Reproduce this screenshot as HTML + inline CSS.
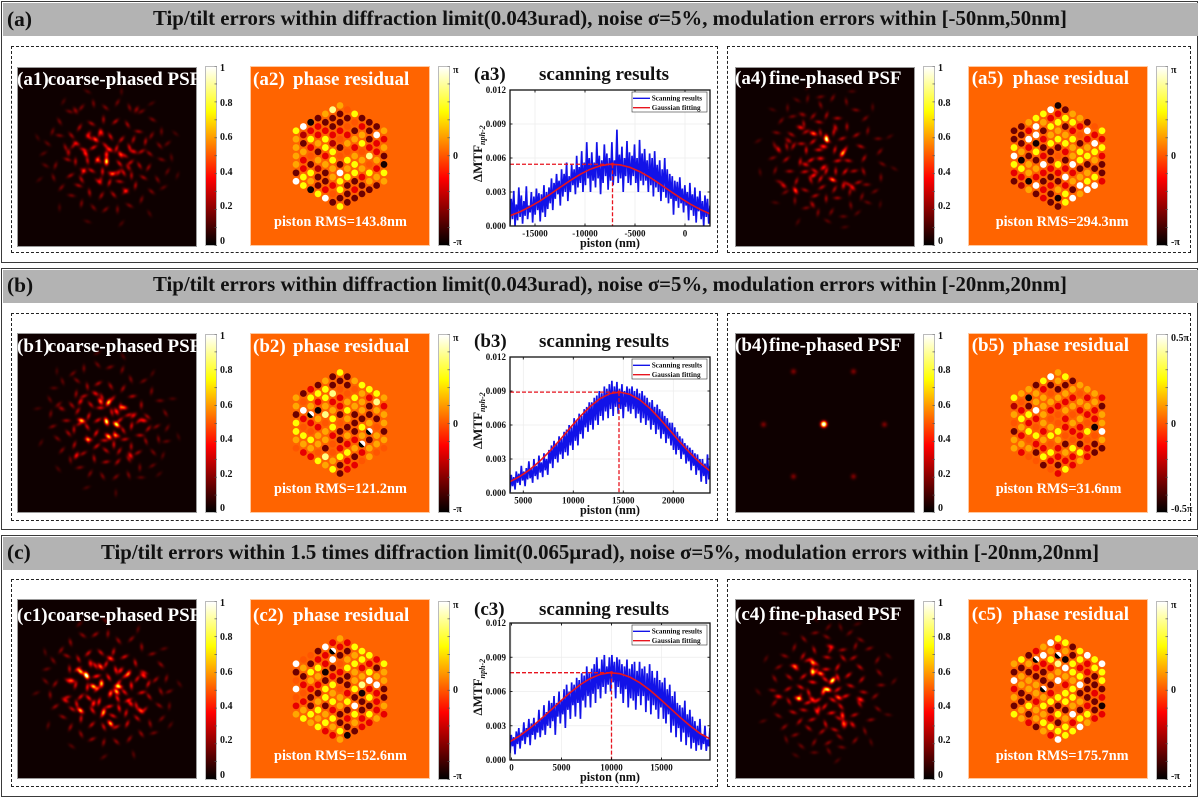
<!DOCTYPE html>
<html lang="en">
<head>
<meta charset="utf-8">
<title>Piston scanning results under tip/tilt errors</title>
<style>
html,body{margin:0;padding:0;background:#fff;}
body{position:relative;width:1200px;height:798px;overflow:hidden;font-family:"Liberation Serif",serif;font-weight:bold;filter:blur(0.35px);}
.frame{position:absolute;left:1px;width:1197px;border:1.5px solid #3a3a3a;box-sizing:border-box;}
.header{position:absolute;left:2.5px;width:1195px;background:#b3b3b3;}
.dash{position:absolute;box-sizing:border-box;border:1.5px dashed #222;}
.h{position:absolute;font-size:20.8px;line-height:1;white-space:nowrap;color:#111;}
.tag{position:absolute;left:7px;font-size:21.4px;line-height:1;color:#111;}
.img{position:absolute;width:180px;height:180px;display:block;box-sizing:border-box;}
.phase{background:#ff6400;outline:1px solid #ffc9a0;outline-offset:-1px;}
.phase svg{position:absolute;left:0;top:0;}
.psf{outline:1px solid #999;outline-offset:-1px;}
.w{position:absolute;color:#fff;font-size:19px;line-height:1;white-space:nowrap;}
.k{position:absolute;color:#111;font-size:19px;line-height:1;white-space:nowrap;}
.rms{position:absolute;color:#fff;font-size:14.3px;line-height:1;white-space:nowrap;}
.cb{position:absolute;width:12px;box-sizing:border-box;border:1px solid #bbb;background:linear-gradient(to top,#000 0%,#f00 37.5%,#ff0 75%,#fff 100%);}
.cbl{position:absolute;font-size:10px;line-height:1;color:#111;white-space:nowrap;}
.chart{position:absolute;left:460px;width:260px;overflow:visible;}
.chart text{font-family:"Liberation Serif",serif;font-weight:bold;fill:#111;}
</style>
</head>
<body>

<!-- Panel (a) -->
<div class="frame" style="top:1px;height:262px"></div>
<div class="header" style="top:2.5px;height:33.5px"></div>
<div class="tag" style="top:9px">(a)</div>
<div class="h" style="left:153px;top:8.6px">Tip/tilt errors within diffraction limit(0.043urad), noise σ=5%, modulation errors within [-50nm,50nm]</div>
<div class="dash" style="left:11px;top:46px;width:707px;height:207px"></div>
<div class="dash" style="left:727px;top:46px;width:464px;height:207px"></div>

<canvas class="img psf" id="a1" width="180" height="180" style="left:17px;top:66.5px"></canvas>
<div class="w" style="left:17px;top:70px">(a1)</div>
<div class="w" style="left:47.7px;top:70px">coarse-phased PSF</div>
<div class="img phase" id="a2" style="left:250px;top:66px"></div>
<div class="w" style="left:253px;top:70px">(a2)</div>
<div class="w" style="left:293px;top:70px">phase residual</div>
<div class="rms" style="left:274px;top:214.7px">piston RMS=143.8nm</div>
<svg class="chart" id="a3" style="top:78px" width="260" height="180"></svg>
<div class="k" style="left:474px;top:64.5px">(a3)</div>
<div class="k" style="left:539px;top:64.5px">scanning results</div>
<canvas class="img psf" id="a4" width="180" height="180" style="left:735px;top:66.5px"></canvas>
<div class="w" style="left:735px;top:69px">(a4)</div>
<div class="w" style="left:769px;top:69px">fine-phased PSF</div>
<div class="img phase" id="a5" style="left:968px;top:66px"></div>
<div class="w" style="left:971.7px;top:69px">(a5)</div>
<div class="w" style="left:1012.7px;top:69px">phase residual</div>
<div class="rms" style="left:995.7px;top:214.7px">piston RMS=294.3nm</div>

<!-- Panel (b) -->
<div class="frame" style="top:268px;height:262px"></div>
<div class="header" style="top:269.5px;height:33.5px"></div>
<div class="tag" style="left:7px;top:275px">(b)</div>
<div class="h" style="left:153px;top:274.6px">Tip/tilt errors within diffraction limit(0.043urad), noise σ=5%, modulation errors within [-20nm,20nm]</div>
<div class="dash" style="left:11px;top:312.5px;width:707px;height:208px"></div>
<div class="dash" style="left:727px;top:312.5px;width:464px;height:208px"></div>

<canvas class="img psf" id="b1" width="180" height="180" style="left:17px;top:333px"></canvas>
<div class="w" style="left:17px;top:337px">(b1)</div>
<div class="w" style="left:47.7px;top:337px">coarse-phased PSF</div>
<div class="img phase" id="b2" style="left:250px;top:332.5px"></div>
<div class="w" style="left:253px;top:337px">(b2)</div>
<div class="w" style="left:293px;top:337px">phase residual</div>
<div class="rms" style="left:274px;top:481.7px">piston RMS=121.2nm</div>
<svg class="chart" id="b3" style="top:345px" width="260" height="180"></svg>
<div class="k" style="left:474px;top:331.7px">(b3)</div>
<div class="k" style="left:539px;top:331.7px">scanning results</div>
<canvas class="img psf" id="b4" width="180" height="180" style="left:735px;top:333px"></canvas>
<div class="w" style="left:735px;top:336.3px">(b4)</div>
<div class="w" style="left:769px;top:336.3px">fine-phased PSF</div>
<div class="img phase" id="b5" style="left:968px;top:332.5px"></div>
<div class="w" style="left:971.7px;top:336.3px">(b5)</div>
<div class="w" style="left:1012.7px;top:336.3px">phase residual</div>
<div class="rms" style="left:995.7px;top:482px">piston RMS=31.6nm</div>

<!-- Panel (c) -->
<div class="frame" style="top:535px;height:262px"></div>
<div class="header" style="top:536.5px;height:33.5px"></div>
<div class="tag" style="left:7px;top:542px">(c)</div>
<div class="h" style="left:101px;top:542.6px">Tip/tilt errors within 1.5 times diffraction limit(0.065µrad), noise σ=5%, modulation errors within [-20nm,20nm]</div>
<div class="dash" style="left:11px;top:579px;width:707px;height:208px"></div>
<div class="dash" style="left:727px;top:579px;width:464px;height:208px"></div>

<canvas class="img psf" id="c1" width="180" height="180" style="left:17px;top:599px"></canvas>
<div class="w" style="left:17px;top:605.7px">(c1)</div>
<div class="w" style="left:47.7px;top:605.7px">coarse-phased PSF</div>
<div class="img phase" id="c2" style="left:250px;top:599px"></div>
<div class="w" style="left:253px;top:605.7px">(c2)</div>
<div class="w" style="left:293px;top:605.7px">phase residual</div>
<div class="rms" style="left:274px;top:748.7px">piston RMS=152.6nm</div>
<svg class="chart" id="c3" style="top:611px" width="260" height="181"></svg>
<div class="k" style="left:474px;top:600px">(c3)</div>
<div class="k" style="left:539px;top:600px">scanning results</div>
<canvas class="img psf" id="c4" width="180" height="180" style="left:735px;top:599px"></canvas>
<div class="w" style="left:735px;top:605px">(c4)</div>
<div class="w" style="left:769px;top:605px">fine-phased PSF</div>
<div class="img phase" id="c5" style="left:968px;top:599px"></div>
<div class="w" style="left:971.7px;top:605px">(c5)</div>
<div class="w" style="left:1012.7px;top:605px">phase residual</div>
<div class="rms" style="left:995.7px;top:748.7px">piston RMS=175.7nm</div>

<script>
/* ---------- scanning chart data (values in units of 1e-4) ---------- */
const yTicks = [0, 0.003, 0.006, 0.009, 0.012];
const xTicksA = [-15000, -10000, -5000, 0];
const xTicksB = [5000, 10000, 15000, 20000];
const xTicksC = [0, 5000, 10000, 15000];
const xDomainA = [-17500, 2500];
const xDomainB = [3670, 23670];
const xDomainC = [-150, 19850];
const peakA = [-7250, 0.00545];
const peakB = [14570, 0.0089];
const peakC = [10000, 0.00765];

const scanA = [
1,24,6,31,0,19,5,34,8,27,2,22,9,35,6,18,12,30,3,26,10,33,14,29,4,28,12,36,8,30,15,34,
20,42,14,38,24,46,28,40,18,50,26,46,30,56,22,44,30,54,36,50,28,62,34,52,38,66,30,56,36,74,42,60,
30,65,40,56,34,74,42,62,28,58,38,72,44,64,32,60,40,74,36,58,44,85,38,63,42,70,30,60,44,75,38,65,
36,62,44,72,38,60,30,76,40,64,36,68,40,58,30,64,36,60,26,66,34,54,30,58,22,50,30,60,25,50,20,46,
24,44,10,40,22,39,16,43,20,33,12,36,18,30,5,38,14,28,9,34,3,26,13,31,6,22,0,27,8,24,2,18];
const scanB = [
1,16,6,14,3,19,9,17,7,24,11,19,6,22,12,28,13,21,9,30,15,24,12,33,18,27,14,35,20,30,16,38,
26,42,22,46,30,44,27,50,34,48,30,54,36,56,33,60,42,58,38,66,46,64,42,70,52,68,48,74,58,76,54,80,
60,80,56,84,64,86,60,90,68,88,64,94,72,92,66,96,74,99,68,94,76,98,70,92,74,96,66,90,76,94,72,92,
70,94,74,90,66,92,70,88,62,90,66,86,60,84,64,80,56,82,60,76,52,78,56,74,48,72,52,68,44,66,48,62,
42,62,38,58,34,54,38,50,30,48,34,44,26,42,28,40,20,38,24,35,16,34,20,30,10,30,15,26,8,34,12,24];
const scanC = [
6,22,12,20,5,25,14,28,10,24,17,33,14,28,20,36,13,32,22,37,18,32,24,44,20,36,26,48,22,42,30,52,
28,50,34,56,22,50,38,60,32,52,40,62,28,66,44,60,36,68,48,66,38,72,50,70,36,76,52,74,46,82,56,76,
46,80,58,84,50,90,62,80,54,88,64,92,58,82,66,90,60,92,68,86,54,90,64,88,58,84,50,82,62,88,46,80,
54,84,52,86,44,78,56,86,48,80,56,82,42,76,52,84,40,78,48,72,44,78,36,70,46,68,36,72,32,62,40,66,
24,56,30,60,20,50,28,48,16,46,24,52,13,40,20,44,10,38,15,34,8,30,13,36,9,22,14,30,8,18,12,28];

const fitA = [9.0,12.6,17.0,22.1,27.9,34.0,40.0,45.5,50.0,53.1,54.5,54.0,51.7,47.9,42.8,37.0,30.9,25.0,19.5,14.7,10.7];
const fitB = [10.0,14.7,20.7,28.3,37.1,46.9,57.3,67.3,76.2,83.3,87.7,89.0,87.0,82.1,74.6,65.3,55.2,44.9,35.3,26.7,19.4];
const fitC = [16.0,21.4,27.9,35.2,43.0,51.1,58.9,65.8,71.3,75.0,76.5,75.6,72.6,67.6,61.1,53.5,45.5,37.5,30.0,23.3,18.5];

/* ---------- phase maps: one level per hex segment, column by column ---------- */
const phaseA2 = [
6,5,5,5,5,1,8,
8,2,1,5,3,3,6,6,
0,3,6,3,4,1,6,5,0,
1,3,3,5,1,5,2,1,1,6,
5,1,3,6,6,3,5,1,1,3,8,
7,1,1,3,2,6,6,5,5,3,4,1,
5,1,1,3,4,1,4,1,8,6,6,1,6,
4,1,4,3,5,4,6,5,6,1,1,1,
6,4,1,5,3,5,6,6,1,3,1,
1,3,5,6,4,5,5,3,1,1,
1,1,1,3,7,4,6,5,1,
1,8,3,3,5,3,5,1,
5,3,5,1,0,6,5];
const phaseA5 = [
1,1,6,8,6,3,1,
1,1,1,5,0,6,3,2,
5,3,8,3,1,5,5,0,5,
6,8,8,0,6,1,5,3,8,1,
6,5,1,3,1,3,8,3,1,3,3,
8,3,6,5,6,1,1,3,1,3,1,1,
0,3,6,5,6,1,4,6,3,1,5,0,1,
1,6,1,5,6,3,1,3,8,3,6,6,
5,6,3,6,5,5,8,3,5,1,8,
5,3,4,1,6,6,1,5,8,5,
1,8,3,5,6,1,5,6,8,
4,3,8,6,5,1,6,8,
6,3,6,3,1,1,3];
const phaseB2 = [
5,5,1,6,6,5,4,
1,4,8,3,4,6,5,3,
3,6,5,9,3,4,6,5,3,
1,6,3,0,5,3,5,5,4,6,
5,6,6,5,7,4,5,5,1,7,5,
1,1,7,3,5,6,6,3,4,4,5,6,
6,1,4,3,3,1,4,1,1,3,6,1,1,
1,1,4,5,6,5,1,5,3,6,3,3,
5,4,6,5,1,1,1,3,5,1,3,
6,5,5,5,1,6,5,9,3,4,
6,3,1,1,5,9,1,5,5,
6,7,5,1,4,5,5,4,
5,3,5,5,1,5,4];
const phaseB5 = [
6,2,5,4,1,5,5,
5,4,3,6,5,3,5,3,
5,0,1,6,3,6,4,5,4,
1,5,5,8,3,4,6,3,1,4,
6,3,5,5,5,5,3,5,3,6,1,
8,1,4,5,3,4,5,6,4,6,3,4,
5,5,1,5,3,4,4,6,5,3,3,1,3,
6,1,5,3,5,3,3,4,1,5,3,6,
1,5,3,5,4,5,3,4,6,3,3,
5,4,5,3,5,3,3,1,6,5,
5,3,5,3,4,6,4,3,3,
5,5,3,3,0,4,1,1,
3,1,5,5,8,5,1];
const phaseC2 = [
8,1,4,8,4,3,5,
4,5,1,3,4,3,5,6,
4,1,6,5,3,1,1,6,5,
1,3,6,5,3,1,5,6,5,6,
8,3,3,0,1,6,6,1,5,6,3,
3,9,8,1,3,6,5,6,3,6,5,3,
5,3,1,4,3,1,4,5,5,1,1,6,5,
3,1,5,6,1,1,3,6,1,3,1,0,
6,5,6,5,5,6,1,8,6,5,1,
6,6,3,5,7,0,1,1,3,3,
6,3,6,8,3,6,1,6,3,
3,1,5,8,3,3,3,5,
6,5,5,1,1,5,3];
const phaseC5 = [
5,1,8,3,5,1,6,
6,1,5,5,1,1,5,5,
1,5,1,5,5,1,6,1,3,
3,9,3,1,5,5,3,5,5,1,
5,8,3,1,1,9,5,6,5,6,5,
8,5,6,3,5,1,3,6,1,3,6,3,
6,3,9,7,5,8,4,6,1,6,1,6,8,
6,5,0,8,5,3,6,6,1,5,6,6,
1,1,6,6,5,6,6,5,8,3,6,
6,6,3,6,8,1,5,1,6,8,
8,3,3,1,1,1,3,6,5,
6,6,1,1,3,1,1,3,
8,6,6,1,3,0,3];
const levelShades = [0.03,0.16,0.26,0.34,0.5,0.62,0.75,0.88,1];

/* ---------- PSF speckles: [x, y, amplitude, angle] ---------- */
const brightA1 = [[89,94,.8,90],[89,87,.4,90],[78,72,.45,40],[92,82,.4,30],[103,87,.4,60],[68,86,.4,60],[94,106,.3,20],[84,65,.3,70],[116,84,.3,20],[59,76,.28,30],[51,85,.22,90],[81,93,.26,40],[101,105,.26,130],[71,67,.26,120],[111,100,.22,60],[66,103,.22,30],[83,113,.22,100],[108,123,.22,40],[58,43,.18,60],[119,42,.18,120]];
const brightA4 = [[91,71,.85,80],[78,66,.5,20],[88,79,.4,10],[107,86,.6,120],[85,91,.3,0],[65,60,.32,20],[43,82,.3,60],[70,97,.28,20],[88,100,.35,140],[78,108,.35,150],[97,112,.3,30],[60,123,.45,60],[117,120,.32,50],[108,118,.28,100],[53,73,.22,40],[100,60,.22,70],[48,118,.28,40],[77,137,.22,60],[67,47,.18,20]];
const brightB1 = [[89,88,.9,70],[99,91,.85,40],[91,69,.7,120],[83,68,.5,60],[64,87,.65,20],[91,103,.7,40],[106,74,.5,10],[99,102,.36,20],[71,106,.4,10],[99,78,.4,60],[126,87,.35,10],[59,122,.35,120],[113,122,.35,60],[63,68,.3,120],[78,60,.3,30],[116,82,.3,140],[44,75,.2,30]];
const brightB4 = [[88.3,90.7,1.25,0],[58,38,.16,0],[118,38,.16,0],[28,91,.16,0],[149,91,.16,0],[58,143,.16,0],[118,143,.16,0]];
const brightC1 = [[69,76,.9,70],[63,72,.7,40],[84,84,.7,90],[76,87,.7,30],[101,87,.75,10],[99,92,.65,50],[93,94,.5,110],[83,67,.5,50],[54,81,.45,20],[63,111,.65,40],[93,124,.65,50],[123,111,.45,40],[93,59,.45,30],[111,74,.45,120],[126,76,.4,40],[86,112,.45,110],[73,64,.35,80],[48,101,.3,30],[113,104,.35,50],[76,104,.4,110],[103,71,.35,130]];
const brightC4 = [[97,81,.9,130],[92,90,.85,20],[77,72,.75,90],[77,63,.55,60],[85,74,.55,20],[103,98,.5,30],[63,99,.6,20],[88,92,.5,110],[77,100,.4,40],[60,68,.4,40],[107,116,.45,80],[108,124,.45,90],[125,100,.4,30],[43,97,.35,10],[95,47,.3,20],[83,110,.3,100],[117,125,.3,50]];
const dimSpeckles = [
[-18,-20,.3,40],[-8,-24,.28,100],[3,-21,.33,60],[14,-18,.3,130],[22,-10,.34,70],[-24,-8,.3,20],[-14,-10,.36,150],[-2,-12,.32,45],[9,-9,.34,110],[17,-2,.3,30],[-20,3,.32,80],[-10,2,.35,120],[12,6,.34,50],[23,5,.3,140],[-16,13,.33,30],[-5,14,.36,90],[6,16,.32,150],[16,15,.33,60],[-24,14,.28,120],[-9,24,.3,40],[2,25,.31,110],[12,24,.28,10],[24,18,.27,90],
[-36,-22,.24,50],[-28,-30,.26,120],[-16,-34,.25,30],[-4,-38,.24,90],[8,-36,.27,140],[20,-33,.25,60],[31,-26,.24,10],[38,-16,.26,100],[42,-4,.22,40],[34,-6,.28,150],[-42,-10,.22,70],[-34,-12,.26,130],[-40,2,.24,20],[-32,4,.27,90],[32,8,.26,60],[41,10,.23,120],[36,20,.24,30],[28,28,.26,100],[18,34,.25,140],[6,37,.26,50],[-6,38,.24,120],[-18,35,.26,80],[-29,28,.25,20],[-37,18,.24,150],[-26,22,.28,60],[26,-18,.26,110],
[-60,-14,.14,40],[-55,-26,.16,110],[-48,-36,.17,60],[-38,-46,.16,20],[-26,-50,.18,130],[-14,-54,.17,80],[-2,-50,.18,40],[10,-55,.16,120],[22,-50,.18,70],[34,-46,.16,150],[45,-38,.17,30],[54,-26,.15,90],[60,-14,.14,140],[52,-12,.18,50],[64,0,.12,80],[54,2,.17,20],[60,14,.14,120],[50,22,.17,60],[56,30,.13,150],[44,34,.18,40],[34,42,.17,110],[22,48,.18,30],[10,52,.17,90],[-2,52,.18,140],[-14,50,.17,50],[-26,46,.18,100],[-36,38,.17,10],[-46,30,.18,130],[-54,20,.16,70],[-62,8,.13,30],[-52,8,.17,110],[-64,-4,.12,150],[-48,-22,.18,10],[44,-22,.19,120],
[-70,-20,.09,60],[-44,-56,.1,120],[-20,-66,.11,30],[14,-66,.1,90],[44,-54,.1,150],[68,-24,.09,40],[70,18,.09,110],[42,56,.1,60],[14,66,.1,130],[-20,64,.1,20],[-48,50,.1,90],[-68,22,.09,140]];

/* ---------- shared helpers ---------- */
const SVGNS = 'http://www.w3.org/2000/svg';
function svgEl(tag, attrs, parent){
  const e = document.createElementNS(SVGNS, tag);
  for (const key in attrs) e.setAttribute(key, attrs[key]);
  parent.appendChild(e);
  return e;
}
function clamp01(v){ return Math.max(0, Math.min(1, v)); }
function hot(t){
  return [clamp01(t/0.375), clamp01((t-0.375)/0.375), clamp01((t-0.75)/0.25)];
}
function hotCss(t){
  const c = hot(t);
  return 'rgb(' + Math.round(c[0]*255) + ',' + Math.round(c[1]*255) + ',' + Math.round(c[2]*255) + ')';
}

/* ---------- PSF rendering ---------- */
function addBlob(field, bx, by, amp, angleDeg, sa, sb){
  const a = angleDeg*Math.PI/180, ca = Math.cos(a), sn = Math.sin(a);
  const reach = Math.ceil(sa*3.2);
  for (let y = Math.max(0, Math.floor(by-reach)); y <= Math.min(179, by+reach); y++){
    for (let x = Math.max(0, Math.floor(bx-reach)); x <= Math.min(179, bx+reach); x++){
      const dx = x-bx, dy = y-by;
      const u = dx*ca+dy*sn, v = -dx*sn+dy*ca;
      field[y*180+x] += amp*Math.exp(-(u*u)/(2*sa*sa)-(v*v)/(2*sb*sb));
    }
  }
}
function drawPsf(id, bright, rotDeg, gain, sa, sb){
  const field = new Float32Array(180*180);
  const r = rotDeg*Math.PI/180, cr = Math.cos(r), sr = Math.sin(r);
  if (gain > 0){
    dimSpeckles.forEach(function(s){
      addBlob(field, 90+s[0]*cr-s[1]*sr, 90+s[0]*sr+s[1]*cr, s[2]*gain, s[3]+rotDeg, 2.5, 1.25);
    });
  }
  bright.forEach(function(b){ addBlob(field, b[0], b[1], b[2], b[3], sa, sb); });
  const cv = document.getElementById(id), ctx = cv.getContext('2d');
  const im = ctx.createImageData(180,180);
  for (let i = 0; i < field.length; i++){
    const c = hot(0.02+Math.min(1, field[i]));
    im.data[i*4] = c[0]*255; im.data[i*4+1] = c[1]*255; im.data[i*4+2] = c[2]*255; im.data[i*4+3] = 255;
  }
  ctx.putImageData(im,0,0);
}
drawPsf('a1', brightA1, 0, 0.8, 2.3, 1.4);
drawPsf('a4', brightA4, 60, 0.8, 2.3, 1.4);
drawPsf('b1', brightB1, 30, 0.8, 2.3, 1.4);
drawPsf('b4', brightB4, 0, 0, 1.9, 1.9);
drawPsf('c1', brightC1, 15, 1.0, 2.3, 1.4);
drawPsf('c4', brightC4, 100, 0.9, 2.3, 1.4);

/* ---------- phase maps ---------- */
const COL_STEP = 7.33, ROW_STEP = 8.42, CELL_R = 3.4;
function colX(k){ return 90+k*COL_STEP; }
function rowY(k, i){ const n = 13-Math.abs(k); return 90+(i-(n-1)/2)*ROW_STEP; }
function drawPhase(id, levels){
  const host = document.getElementById(id);
  const svg = svgEl('svg', {width:180, height:180}, host);
  const defs = svgEl('defs', {}, svg);
  const grad = svgEl('linearGradient', {id:'split-'+id, x1:0, y1:1, x2:1, y2:0}, defs);
  svgEl('stop', {offset:'50%', 'stop-color':'#000'}, grad);
  svgEl('stop', {offset:'50%', 'stop-color':'#fff'}, grad);
  let idx = 0;
  for (let k = -6; k <= 6; k++){
    const n = 13-Math.abs(k);
    for (let i = 0; i < n; i++){
      const lv = levels[idx++];
      const dot = svgEl('circle', {cx:colX(k), cy:rowY(k,i), r:CELL_R,
        fill: lv === 9 ? 'url(#split-'+id+')' : hotCss(levelShades[lv])}, svg);
      
      
    }
  }
}
drawPhase('a2', phaseA2);
drawPhase('a5', phaseA5);
drawPhase('b2', phaseB2);
drawPhase('b5', phaseB5);
drawPhase('c2', phaseC2);
drawPhase('c5', phaseC5);

/* ---------- colour bars ---------- */
const psfBarValues = [1, 0.8, 0.6, 0.4, 0.2, 0];
const psfBarLabels = ['1', '0.8', '0.6', '0.4', '0.2', '0'];
const phaseBarValues = [1, 0.5, 0];
const phaseBarLabels = ['π', '0', '-π'];
const phaseBarLabelsHalf = ['0.5π', '0', '-0.5π'];
function drawBar(left, top, bottom, name, values, labels, insetTop, insetBottom){
  const bar = document.createElement('div');
  bar.className = 'cb';
  bar.style.left = left+'px';
  bar.style.top = top+'px';
  bar.style.height = (bottom-top)+'px';
  
  
  document.body.appendChild(bar);
  const ticks = document.createElementNS(SVGNS, 'svg');
  ticks.setAttribute('width', 12);
  ticks.setAttribute('height', bottom-top);
  ticks.style.cssText = 'position:absolute;left:'+left+'px;top:'+top+'px';
  
  
  document.body.appendChild(ticks);
  for (let v = 0; v <= 10; v++){
    const y = (bottom-top)*v/10;
    svgEl('line', {x1:9.5, x2:12, y1:y, y2:y, stroke:'#555', 'stroke-width':0.7}, ticks);
  }
  values.forEach(function(val, i){
    const lab = document.createElement('div');
    lab.className = 'cbl';
    lab.textContent = labels[i];
    lab.style.left = (left+15)+'px';
    const y = top+insetTop+(1-val)*(bottom-top-insetTop-insetBottom);
    lab.style.top = (y-5)+'px';
    
    
    document.body.appendChild(lab);
  });
}
drawBar(205, 66, 245.5, 'a1', psfBarValues, psfBarLabels, 3, 4);
drawBar(438, 66, 245.5, 'a2', phaseBarValues, phaseBarLabels, 5, 3);
drawBar(923, 66, 245.5, 'a4', psfBarValues, psfBarLabels, 3, 4);
drawBar(1156, 66, 245.5, 'a5', phaseBarValues, phaseBarLabels, 5, 3);
drawBar(205, 334, 513, 'b1', psfBarValues, psfBarLabels, 3, 4);
drawBar(438, 334, 513, 'b2', phaseBarValues, phaseBarLabels, 5, 3);
drawBar(923, 334, 513, 'b4', psfBarValues, psfBarLabels, 3, 4);
drawBar(1156, 334, 513, 'b5', phaseBarValues, phaseBarLabelsHalf, 5, 3);
drawBar(205, 601, 779.5, 'c1', psfBarValues, psfBarLabels, 3, 4);
drawBar(438, 601, 779.5, 'c2', phaseBarValues, phaseBarLabels, 5, 3);
drawBar(923, 601, 779.5, 'c4', psfBarValues, psfBarLabels, 3, 4);
drawBar(1156, 601, 779.5, 'c5', phaseBarValues, phaseBarLabels, 5, 3);

/* ---------- scanning charts ---------- */
const legendScan = 'Scanning results';
const legendFit = 'Gaussian fitting';
function drawChart(id, xDomain, xTicks, scan, fit, peak, plotH){
  const svg = document.getElementById(id);
  const L = 50, R = 250, T = 12, B = T+plotH;
  const xs = function(v){ return L+(v-xDomain[0])/(xDomain[1]-xDomain[0])*(R-L); };
  const ys = function(v){ return B-v/0.012*(B-T); };
  const clipId = 'clip-'+id;
  const clip = svgEl('clipPath', {id:clipId}, svgEl('defs', {}, svg));
  svgEl('rect', {x:L, y:T, width:R-L, height:B-T}, clip);
  svgEl('rect', {x:L, y:T, width:R-L, height:B-T, fill:'#fff'}, svg);

  yTicks.forEach(function(v){
    svgEl('line', {x1:L, x2:R, y1:ys(v), y2:ys(v), stroke:'#ececec', 'stroke-width':0.7}, svg);
  });
  xTicks.forEach(function(v){
    svgEl('line', {x1:xs(v), x2:xs(v), y1:T, y2:B, stroke:'#ececec', 'stroke-width':0.7}, svg);
  });

  const g = svgEl('g', {'clip-path':'url(#'+clipId+')'}, svg);
  const blueLine = svgEl('polyline', {fill:'none', stroke:'#1212e8', 'stroke-width':1.7, 'stroke-linejoin':'bevel',
    points: scan.map(function(v, i){
      const x = xDomain[0]+i/(scan.length-1)*(xDomain[1]-xDomain[0]);
      return xs(x).toFixed(2)+','+ys(v*1e-4).toFixed(2);
    }).join(' ')}, g);
  
  
  const redLine = svgEl('polyline', {fill:'none', stroke:'#e8141e', 'stroke-width':1.6,
    points: fit.map(function(v, i){
      const x = xDomain[0]+i/(fit.length-1)*(xDomain[1]-xDomain[0]);
      return xs(x).toFixed(2)+','+ys(v*1e-4).toFixed(2);
    }).join(' ')}, g);
  
  

  svgEl('line', {x1:L, x2:xs(peak[0]), y1:ys(peak[1]), y2:ys(peak[1]), stroke:'#e8141e', 'stroke-width':1.3, 'stroke-dasharray':'4 2'}, svg);
  svgEl('line', {x1:xs(peak[0]), x2:xs(peak[0]), y1:ys(peak[1]), y2:B, stroke:'#e8141e', 'stroke-width':1.3, 'stroke-dasharray':'4 2'}, svg);
  svgEl('circle', {cx:xs(peak[0]), cy:ys(peak[1]), r:1.6, fill:'#e8141e'}, svg);

  svgEl('rect', {x:L, y:T, width:R-L, height:B-T, fill:'none', stroke:'#111', 'stroke-width':1.3}, svg);

  yTicks.forEach(function(v){
    svgEl('line', {x1:L, x2:L+2.5, y1:ys(v), y2:ys(v), stroke:'#111', 'stroke-width':0.9}, svg);
    svgEl('line', {x1:R, x2:R-2.5, y1:ys(v), y2:ys(v), stroke:'#111', 'stroke-width':0.9}, svg);
    const lab = svgEl('text', {x:L-4, y:ys(v)+3, 'text-anchor':'end', 'font-size':9}, svg);
    lab.textContent = v.toFixed(3);
    
    
  });
  xTicks.forEach(function(v){
    svgEl('line', {x1:xs(v), x2:xs(v), y1:B, y2:B-2.5, stroke:'#111', 'stroke-width':0.9}, svg);
    svgEl('line', {x1:xs(v), x2:xs(v), y1:T, y2:T+2.5, stroke:'#111', 'stroke-width':0.9}, svg);
    const lab = svgEl('text', {x:xs(v), y:B+10.5, 'text-anchor':'middle', 'font-size':9}, svg);
    lab.textContent = String(v);
    
    
  });

  const xTitle = svgEl('text', {x:(L+R)/2, y:B+21, 'text-anchor':'middle', 'font-size':12.2}, svg);
  xTitle.textContent = 'piston (nm)';
  
  

  const yMid = (T+B)/2;
  const yTitle = svgEl('text', {transform:'translate(22,'+(yMid+24)+') rotate(-90)', 'font-size':13}, svg);
  
  
  const main = svgEl('tspan', {}, yTitle);
  main.textContent = 'ΔMTF';
  const sub = svgEl('tspan', {dy:3, 'font-size':8, 'font-style':'italic'}, yTitle);
  sub.textContent = 'nph-2';

  const legend = svgEl('g', {}, svg);
  
  
  svgEl('rect', {x:R-78, y:T+2, width:75, height:20, fill:'#fff', stroke:'#333', 'stroke-width':0.6}, legend);
  svgEl('line', {x1:R-77, x2:R-60, y1:T+8.3, y2:T+8.3, stroke:'#1212e8', 'stroke-width':1.3}, legend);
  svgEl('line', {x1:R-77, x2:R-60, y1:T+17.7, y2:T+17.7, stroke:'#e8141e', 'stroke-width':1.3}, legend);
  const t1 = svgEl('text', {x:R-58.3, y:T+10.5, 'font-size':7.2}, legend);
  t1.textContent = legendScan;
  const t2 = svgEl('text', {x:R-58.3, y:T+19.9, 'font-size':7.2}, legend);
  t2.textContent = legendFit;
}
drawChart('a3', xDomainA, xTicksA, scanA, fitA, peakA, 136);
drawChart('b3', xDomainB, xTicksB, scanB, fitB, peakB, 136);
drawChart('c3', xDomainC, xTicksC, scanC, fitC, peakC, 137);
</script>
</body>
</html>
